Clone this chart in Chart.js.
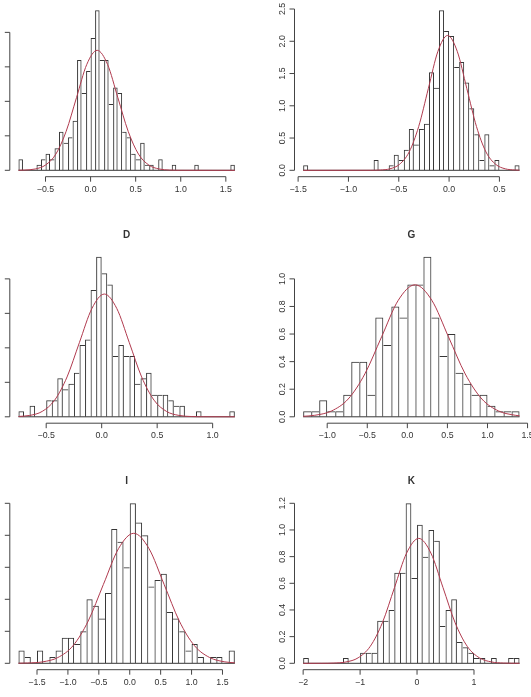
<!DOCTYPE html>
<html>
<head>
<meta charset="utf-8">
<script src="https://cdn.jsdelivr.net/npm/chart.js@4.4.1/dist/chart.umd.min.js"></script>
<style>
  html, body { margin: 0; padding: 0; background: #ffffff; }
  #wrap { position: relative; width: 531px; height: 697px; overflow: hidden; background: #ffffff; }
  #wrap canvas { position: absolute; left: 0; top: 0; }
</style>
</head>
<body>
<div id="wrap"></div>
<script>
// ---------------- DATA ----------------
// Panel A (top-left): bins of width 0.05 starting at -0.8, density per bin
const A_binStart = -0.8, A_binWidth = 0.05;
const A_density = [0.16,0,0,0,0.08,0.16,0.24,0.16,0.32,0.56,0.40,0.48,0.72,1.60,1.12,1.44,1.92,2.32,1.60,1.60,0.96,1.20,1.12,0.56,0.48,0.24,0.16,0.40,0.08,0.08,0,0.16,0,0,0.08,0,0,0,0,0.08,0,0,0,0,0,0,0,0.08];
const A_curveX = [-0.8,-0.729,-0.614,-0.500,-0.385,-0.271,-0.156,-0.042,0.073,0.188,0.302,0.417,0.531,0.646,0.760,0.875,0.989,1.6];
const A_curveY = [0.001,0.004,0.019,0.076,0.235,0.565,1.055,1.536,1.74,1.536,1.055,0.565,0.235,0.076,0.019,0.004,0.0005,0];
const A_xTicks = [-0.5,0,0.5,1.0,1.5];
const A_xLabels = ["\u22120.5","0.0","0.5","1.0","1.5"];
const A_yTicks = [0,0.5,1.0,1.5,2.0];
const A_yLabels = ["0.0","0.5","1.0","1.5","2.0"];

// Panel B (top-right)
const B_binStart = -1.45, B_binWidth = 0.05;
const B_density = [0.08,0,0,0,0,0,0,0,0,0,0,0,0,0,0.16,0,0,0.08,0.24,0.16,0.32,0.64,0.40,0.64,0.72,1.52,1.28,2.48,2.16,2.08,1.60,1.68,1.36,0.96,0.56,0.16,0.56,0.08,0.16,0,0,0,0.08];
const B_curveX = [-1.45,-0.779,-0.684,-0.588,-0.493,-0.397,-0.302,-0.206,-0.111,-0.015,0.081,0.176,0.272,0.367,0.463,0.558,0.654,0.7];
const B_curveY = [0,0.001,0.005,0.023,0.092,0.283,0.679,1.268,1.844,2.09,1.844,1.268,0.679,0.283,0.092,0.023,0.005,0.002];
const B_xTicks = [-1.5,-1.0,-0.5,0,0.5];
const B_xLabels = ["\u22121.5","\u22121.0","\u22120.5","0.0","0.5"];
const B_yTicks = [0,0.5,1.0,1.5,2.0,2.5];
const B_yLabels = ["0.0","0.5","1.0","1.5","2.0","2.5"];

// Panel D (middle-left)
const D_binStart = -0.75, D_binWidth = 0.05;
const D_density = [0.08,0,0.16,0,0,0.24,0.24,0.56,0.40,0.48,0.64,1.04,1.12,1.84,2.32,2.08,1.92,0.88,1.04,0.88,0.88,0.48,0.56,0.64,0.32,0.32,0.32,0.24,0.16,0.16,0,0,0.08,0,0,0,0,0,0.08];
const D_curveX = [-0.75,-0.648,-0.536,-0.424,-0.312,-0.200,-0.088,0.024,0.136,0.248,0.360,0.472,0.584,0.696,0.808,0.920,1.2];
const D_curveY = [0.005,0.020,0.078,0.241,0.578,1.080,1.571,1.78,1.571,1.080,0.578,0.241,0.078,0.020,0.004,0.0005,0];
const D_xTicks = [-0.5,0,0.5,1.0];
const D_xLabels = ["\u22120.5","0.0","0.5","1.0"];
const D_yTicks = [0,0.5,1.0,1.5,2.0];
const D_yLabels = ["0.0","0.5","1.0","1.5","2.0"];

// Panel G (middle-right)
const G_binStart = -1.3, G_binWidth = 0.1;
const G_density = [0.04,0.04,0.12,0.04,0.04,0.16,0.40,0.40,0.16,0.72,0.52,0.80,0.72,0.96,0.96,1.16,0.72,0.44,0.60,0.32,0.24,0.16,0.16,0.08,0.04,0.04,0.04];
const G_curveX = [-1.3,-1.155,-0.947,-0.738,-0.530,-0.321,-0.113,0.096,0.305,0.513,0.722,0.930,1.139,1.347,1.4];
const G_curveY = [0.0035,0.011,0.042,0.129,0.311,0.580,0.845,0.957,0.845,0.580,0.311,0.129,0.042,0.011,0.007];
const G_xTicks = [-1.0,-0.5,0,0.5,1.0,1.5];
const G_xLabels = ["\u22121.0","\u22120.5","0.0","0.5","1.0","1.5"];
const G_yTicks = [0,0.2,0.4,0.6,0.8,1.0];
const G_yLabels = ["0.0","0.2","0.4","0.6","0.8","1.0"];

// Panel I (bottom-left)
const I_binStart = -1.8, I_binWidth = 0.1;
const I_density = [0.08,0.04,0,0.08,0,0.04,0.08,0.16,0.16,0.12,0.20,0.40,0.36,0.28,0.44,0.84,0.76,0.60,1.00,0.88,0.80,0.48,0.52,0.56,0.32,0.28,0.20,0.08,0.12,0.04,0,0.04,0.04,0,0.08];
const I_curveX = [-1.8,-1.654,-1.408,-1.163,-0.917,-0.672,-0.426,-0.181,0.065,0.311,0.556,0.802,1.047,1.293,1.538,1.7];
const I_curveY = [0.0006,0.002,0.009,0.036,0.110,0.264,0.493,0.717,0.8125,0.717,0.493,0.264,0.110,0.036,0.009,0.003];
const I_xTicks = [-1.5,-1.0,-0.5,0,0.5,1.0,1.5];
const I_xLabels = ["\u22121.5","\u22121.0","\u22120.5","0.0","0.5","1.0","1.5"];
const I_yTicks = [0,0.2,0.4,0.6,0.8,1.0];
const I_yLabels = ["0.0","0.2","0.4","0.6","0.8","1.0"];

// Panel K (bottom-right)
const K_binStart = -2.0, K_binWidth = 0.1;
const K_density = [0.04,0,0,0,0,0,0,0.04,0,0,0.08,0.08,0.08,0.32,0.32,0.40,0.68,0.68,1.20,0.64,1.04,0.80,1.00,0.92,0.28,0.40,0.48,0.16,0.12,0.08,0.04,0.04,0,0.04,0,0,0.04,0.04];
const K_curveX = [-2.0,-1.674,-1.461,-1.248,-1.035,-0.822,-0.609,-0.396,-0.183,0.030,0.243,0.456,0.669,0.882,1.095,1.308,1.521,1.8];
const K_curveY = [0,0.0003,0.002,0.010,0.041,0.127,0.304,0.568,0.827,0.937,0.827,0.568,0.304,0.127,0.041,0.010,0.002,0.0002];
const K_xTicks = [-2,-1,0,1];
const K_xLabels = ["\u22122","\u22121","0","1"];
const K_yTicks = [0,0.2,0.4,0.6,0.8,1.0,1.2];
const K_yLabels = ["0.0","0.2","0.4","0.6","0.8","1.0","1.2"];

// ---------------- LAYOUT / STYLE ----------------
const PAGE_W = 531, PAGE_H = 697;
const COL_LEFT = [9.8, 294.5];
const PLOT_W = 233.7;
const ROW_BOTTOM = [176.7, 423.2, 669.7];
const PLOT_H = 172.8;
const BAR_COLOR = '#363636';
const AXIS_COLOR = '#444444';
const TEXT_COLOR = '#333333';
const CURVE_COLOR = '#b03a4e';
const FONT = '"Liberation Sans", Arial, Helvetica, sans-serif';
const TICK_FONT_PX = 8.8;
const TITLE_FONT_PX = 10;
const TICK_LEN = 5;

const panels = [
  {title: null, col: 0, row: 0, start: A_binStart, width: A_binWidth, dens: A_density, cx: A_curveX, cy: A_curveY, xt: A_xTicks, xl: A_xLabels, yt: A_yTicks, yl: A_yLabels},
  {title: null, col: 1, row: 0, start: B_binStart, width: B_binWidth, dens: B_density, cx: B_curveX, cy: B_curveY, xt: B_xTicks, xl: B_xLabels, yt: B_yTicks, yl: B_yLabels},
  {title: 'D',  col: 0, row: 1, start: D_binStart, width: D_binWidth, dens: D_density, cx: D_curveX, cy: D_curveY, xt: D_xTicks, xl: D_xLabels, yt: D_yTicks, yl: D_yLabels},
  {title: 'G',  col: 1, row: 1, start: G_binStart, width: G_binWidth, dens: G_density, cx: G_curveX, cy: G_curveY, xt: G_xTicks, xl: G_xLabels, yt: G_yTicks, yl: G_yLabels},
  {title: 'I',  col: 0, row: 2, start: I_binStart, width: I_binWidth, dens: I_density, cx: I_curveX, cy: I_curveY, xt: I_xTicks, xl: I_xLabels, yt: I_yTicks, yl: I_yLabels},
  {title: 'K',  col: 1, row: 2, start: K_binStart, width: K_binWidth, dens: K_density, cx: K_curveX, cy: K_curveY, xt: K_xTicks, xl: K_xLabels, yt: K_yTicks, yl: K_yLabels}
];

// R-style axes: line from first to last tick, outward tick marks, rotated y labels
const rAxes = {
  id: 'rAxes',
  afterDraw(chart, args, o) {
    const ctx = chart.ctx, ca = chart.chartArea;
    const xs = chart.scales.x, ys = chart.scales.y;
    ctx.save();
    ctx.strokeStyle = AXIS_COLOR;
    ctx.lineWidth = 1;
    const px = o.xTicks.map(v => xs.getPixelForValue(v));
    const py = o.yTicks.map(v => ys.getPixelForValue(v));
    const yb = ca.bottom, xl = ca.left;
    ctx.beginPath();
    ctx.moveTo(px[0], yb); ctx.lineTo(px[px.length - 1], yb);
    px.forEach(p => { ctx.moveTo(p, yb); ctx.lineTo(p, yb + TICK_LEN); });
    ctx.moveTo(xl, py[0]); ctx.lineTo(xl, py[py.length - 1]);
    py.forEach(p => { ctx.moveTo(xl, p); ctx.lineTo(xl - TICK_LEN, p); });
    ctx.stroke();

    ctx.fillStyle = TEXT_COLOR;
    ctx.font = TICK_FONT_PX + 'px ' + FONT;
    ctx.textAlign = 'center';
    ctx.textBaseline = 'middle';
    o.xLabels.forEach((t, i) => ctx.fillText(t, px[i], yb + 12.8));
    const lx = xl - 12;
    if (lx > 0) {
      o.yLabels.forEach((t, i) => {
        ctx.save();
        ctx.translate(lx, py[i]);
        ctx.rotate(-Math.PI / 2);
        ctx.fillText(t, 0, 0);
        ctx.restore();
      });
    }
    if (o.title) {
      ctx.font = 'bold ' + TITLE_FONT_PX + 'px ' + FONT;
      ctx.fillText(o.title, (ca.left + ca.right) / 2, ca.top - 15.6);
    }
    ctx.restore();
  }
};

const wrap = document.getElementById('wrap');

panels.forEach(p => {
  const n = p.dens.length;
  const end = p.start + n * p.width;
  const range = end - p.start;
  const yMax = Math.max(...p.dens);
  const bars = p.dens.map((d, i) => ({x: +(p.start + (i + 0.5) * p.width).toFixed(4), y: d}));
  const curve = p.cx.map((x, i) => ({x: x, y: p.cy[i]}));
  const base = [{x: p.start, y: 0}, {x: end, y: 0}];

  const left = COL_LEFT[p.col];
  const bottom = ROW_BOTTOM[p.row];
  const pad = {
    left: left,
    right: PAGE_W - (left + PLOT_W),
    top: bottom - PLOT_H,
    bottom: PAGE_H - bottom
  };

  const canvas = document.createElement('canvas');
  canvas.width = PAGE_W; canvas.height = PAGE_H;
  canvas.style.width = PAGE_W + 'px'; canvas.style.height = PAGE_H + 'px';
  wrap.appendChild(canvas);

  new Chart(canvas, {
    type: 'bar',
    data: {
      datasets: [
        {
          type: 'line', data: curve, borderColor: CURVE_COLOR, borderWidth: 1,
          pointRadius: 0, fill: false, cubicInterpolationMode: 'monotone', order: 0
        },
        {
          type: 'bar', data: bars, backgroundColor: 'rgba(0,0,0,0)', borderColor: BAR_COLOR,
          borderSkipped: false, inflateAmount: 0, barPercentage: 1, categoryPercentage: 1, order: 1,
          borderWidth: (c) => {
            const d = c.dataset.data, i = c.dataIndex, h = d[i].y;
            const prev = i > 0 ? d[i - 1].y : -1;
            const next = i < d.length - 1 ? d[i + 1].y : -1;
            return {top: 1, bottom: 0, left: h >= prev ? 1 : 0, right: h > next ? 1 : 0};
          }
        },
        {
          type: 'line', data: base, borderColor: BAR_COLOR, borderWidth: 1,
          pointRadius: 0, fill: false, order: 2
        }
      ]
    },
    options: {
      responsive: false,
      animation: false,
      events: [],
      layout: { padding: pad },
      plugins: {
        legend: { display: false },
        tooltip: { enabled: false },
        rAxes: { xTicks: p.xt, xLabels: p.xl, yTicks: p.yt, yLabels: p.yl, title: p.title }
      },
      scales: {
        x: { type: 'linear', display: false, offset: false, min: p.start - 0.04 * range, max: end + 0.04 * range },
        y: { type: 'linear', display: false, min: -0.04 * yMax, max: 1.04 * yMax }
      }
    },
    plugins: [rAxes]
  });
});
</script>
</body>
</html>
